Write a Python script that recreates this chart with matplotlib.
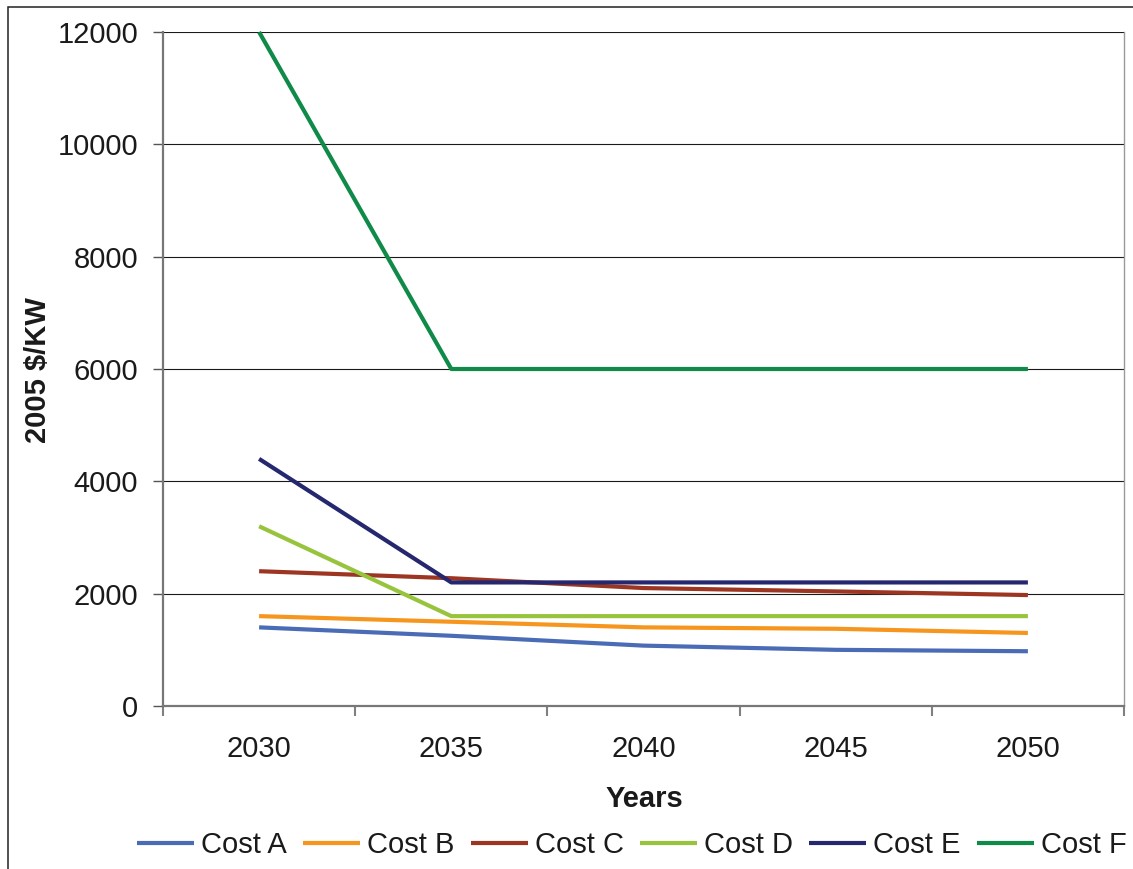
import matplotlib
matplotlib.use("Agg")
import matplotlib.pyplot as plt
from matplotlib.patches import Rectangle
from matplotlib.ticker import FixedLocator, NullFormatter

plt.rcParams['font.family'] = ['Liberation Sans', 'DejaVu Sans']

years = ["2030", "2035", "2040", "2045", "2050"]
cost_a = [1400, 1250, 1075, 1000, 975]
cost_b = [1600, 1500, 1400, 1375, 1300]
cost_c = [2400, 2275, 2100, 2040, 1975]
cost_d = [3200, 1600, 1600, 1600, 1600]
cost_e = [4400, 2200, 2200, 2200, 2200]
cost_f = [12000, 6000, 6000, 6000, 6000]
series_names = ["Cost A", "Cost B", "Cost C", "Cost D", "Cost E", "Cost F"]
series_colors = ["#4A6BB5", "#F7961E", "#9C3522", "#97C43C", "#25276F", "#0F8A48"]
y_ticks = [0, 2000, 4000, 6000, 8000, 10000, 12000]

FS = 21

W, H = 1133, 869
fig = plt.figure(figsize=(W / 100, H / 100), dpi=100)
ax = fig.add_axes([163 / W, 1 - 706 / H, (1124 - 163) / W, (706 - 32) / H])

# outer chart frame (left and top edges visible)
fig.patches.append(Rectangle((8 / W, -0.1), 1.2, 1 - 7 / H + 0.1,
                             transform=fig.transFigure, fill=False,
                             edgecolor="#222222", linewidth=1.1, zorder=0))

xs = list(range(len(years)))
for vals, name, col in zip([cost_a, cost_b, cost_c, cost_d, cost_e, cost_f],
                           series_names, series_colors):
    ax.plot(xs, vals, color=col, lw=3.0, label=name, solid_capstyle="butt",
            clip_on=False, zorder=3)

ax.set_xlim(-0.5, len(years) - 0.5)
ax.set_ylim(0, 12000)
ax.set_yticks(y_ticks)
ax.set_yticklabels([str(v) for v in y_ticks])
ax.yaxis.grid(True, color="#1a1a1a", lw=0.8)
ax.set_axisbelow(True)

# category axis: tick marks between categories, labels at centers
ax.xaxis.set_major_locator(FixedLocator([i - 0.5 for i in range(len(years) + 1)]))
ax.xaxis.set_major_formatter(NullFormatter())
ax.xaxis.set_minor_locator(FixedLocator(xs))
ax.set_xticklabels(years, minor=True)
ax.tick_params(axis="x", which="major", length=7, width=1.5, color="#808080",
               direction="out")
ax.tick_params(axis="x", which="minor", length=0, pad=21, labelsize=FS,
               labelcolor="#1a1a1a")
ax.tick_params(axis="y", length=7, width=1.0, color="#555555", pad=11,
               labelsize=FS, labelcolor="#1a1a1a")

for side in ["left", "bottom"]:
    ax.spines[side].set_color("#777777")
    ax.spines[side].set_linewidth(1.6)
ax.spines["right"].set_color("#999999")
ax.spines["right"].set_linewidth(1.0)
ax.spines["top"].set_visible(False)

fig.text(38 / W, 1 - 370 / H, "2005 $/KW", rotation=90, fontsize=FS,
         fontweight="bold", ha="center", va="center", color="#1a1a1a")
fig.text(644 / W, 1 - 799 / H, "Years", fontsize=FS, fontweight="bold",
         ha="center", va="center", color="#1a1a1a")

fig.legend(loc="center", bbox_to_anchor=(632 / W, 1 - 845 / H), ncol=6,
           frameon=False, fontsize=FS, handlelength=1.95, handletextpad=0.25,
           columnspacing=0.55, borderpad=0, labelcolor="#1a1a1a")

fig.savefig("out.png", dpi=100)
